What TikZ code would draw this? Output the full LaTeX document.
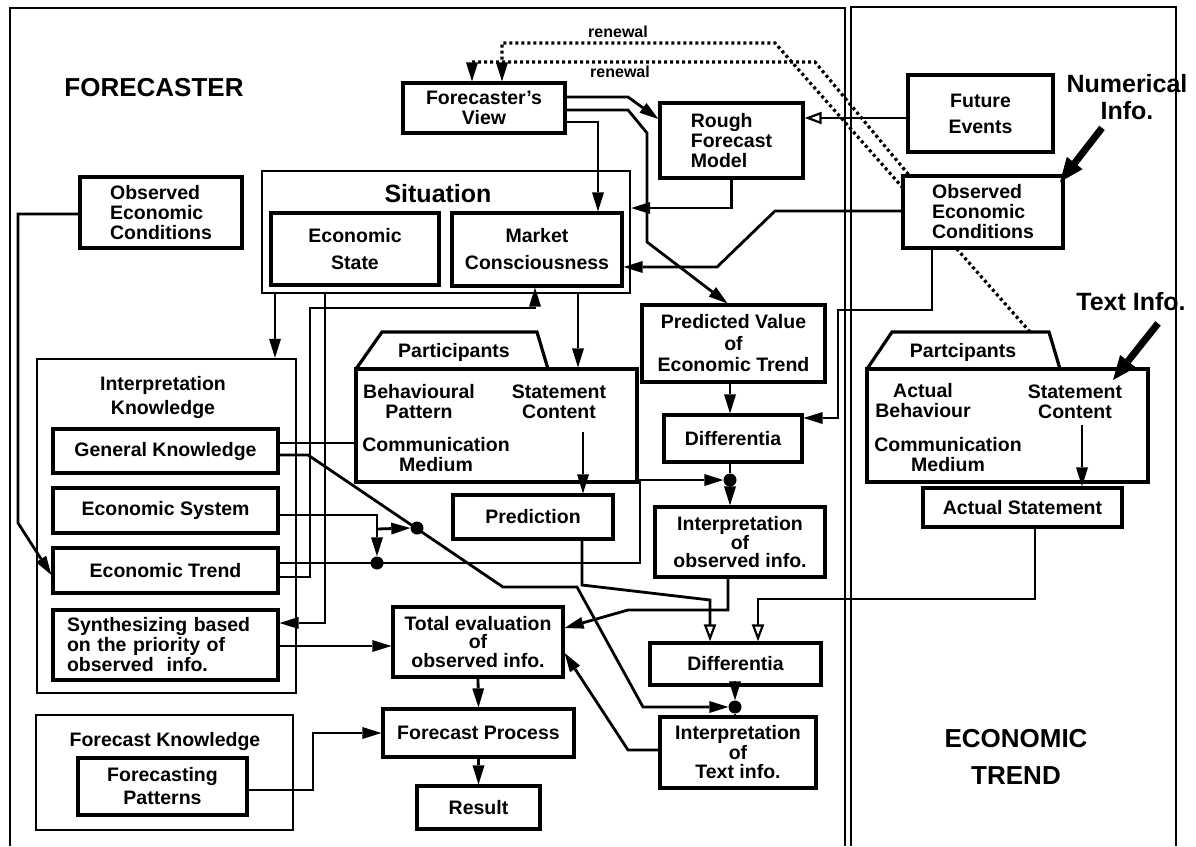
\documentclass[tikz,border=0pt]{standalone}
\usepackage{fontspec}
\setmainfont{Liberation Sans}
\usetikzlibrary{arrows.meta}
\begin{document}
\begin{tikzpicture}[x=1pt,y=-1pt,
  every node/.style={font=\bfseries\fontsize{19.5}{20}\selectfont},
  bx/.style={draw,line width=3.2pt,inner sep=0pt,align=center,fill=white},
  container/.style={draw,line width=2.4pt,inner sep=0pt},
  frameline/.style={line width=2pt},
  link/.style={line width=2.8pt},
  arr/.style={link,-{Triangle[length=19pt,width=12pt,line width=0pt]}},
  oarr/.style={link,-{Triangle[open,length=17pt,width=12pt,line width=2.2pt]}},
  renew/.style={line width=3.2pt,dash pattern=on 3pt off 3pt},
  bigarr/.style={line width=7pt,-{Triangle[length=24pt,width=20pt,line width=0pt]}},
  jdot/.style={circle,fill,inner sep=0pt,minimum size=13pt},
  txt/.style={inner sep=0pt,align=center},
  big/.style={font=\bfseries\fontsize{26}{37}\selectfont},
]
\useasboundingbox (0,0) rectangle (1196,846);

% two outer frames
\draw[frameline] (10,846) -- (10,8) -- (845,8) -- (845,846);
\draw[frameline] (851,846) -- (851,7) -- (1176,7) -- (1176,846);

% region titles
\node[txt,big] (forecaster) at (154,88) {FORECASTER};
\node[txt,big] (ectrend) at (1016,757) {ECONOMIC\\TREND};
\node[txt,font=\bfseries\fontsize{25}{27}\selectfont] (numinfo) at (1127,97) {Numerical\\Info.};
\node[txt,font=\bfseries\fontsize{25}{27}\selectfont] (txtinfo) at (1131,302) {Text Info.};
\node[txt,font=\bfseries\fontsize{16}{17}\selectfont] (rwlab1) at (618,32) {renewal};
\node[txt,font=\bfseries\fontsize{16}{17}\selectfont] (rwlab2) at (620,72) {renewal};

% upper boxes
\node[bx,minimum width=162pt,minimum height=50pt] (fv) at (484,108) {Forecaster’s\\View};
\node[bx,minimum width=143pt,minimum height=75pt,align=left] (rfm) at (731.5,140.5) {Rough\\Forecast\\Model};
\node[bx,minimum width=145pt,minimum height=77pt,font=\bfseries\fontsize{19.5}{26}\selectfont] (fe) at (980.5,113.5) {Future\\Events};
\node[bx,minimum width=160pt,minimum height=72pt,align=left] (oecR) at (983,212) {Observed\\Economic\\Conditions};
\node[bx,minimum width=162pt,minimum height=71pt,align=left] (oecL) at (161,212.5) {Observed\\Economic\\Conditions};

% situation
\node[container,minimum width=368pt,minimum height=122pt] (sit) at (446,232) {};
\node[txt,font=\bfseries\fontsize{25}{27}\selectfont] (sitlabel) at (438,194) {Situation};
\node[bx,minimum width=168pt,minimum height=72pt,font=\bfseries\fontsize{19.5}{27}\selectfont] (es) at (355,249) {Economic\\State};
\node[bx,minimum width=170pt,minimum height=73pt,font=\bfseries\fontsize{19.5}{27}\selectfont] (mc) at (537,249.5) {Market\\Consciousness};

% interpretation knowledge
\node[container,minimum width=259pt,minimum height=334pt] (ik) at (166.5,526) {};
\node[txt,font=\bfseries\fontsize{19.5}{24}\selectfont] (iklabel) at (163,397) {Interpretation\\Knowledge};
\node[bx,minimum width=225pt,minimum height=44pt] (gk) at (165.5,451) {General Knowledge};
\node[bx,minimum width=225pt,minimum height=45pt] (esys) at (165.5,510.5) {Economic System};
\node[bx,minimum width=225pt,minimum height=45pt] (et) at (165.5,570.5) {Economic Trend};
\node[bx,minimum width=225pt,minimum height=70pt,align=left,text width=197pt] (syn) at (165.5,645) {Synthesizing based\\on the priority of\\observed\ \ info.};

% forecast knowledge
\node[container,line width=2.8pt,minimum width=257pt,minimum height=115pt] (fk) at (164.5,772.5) {};
\node[txt] (fklabel) at (165,741) {Forecast Knowledge};
\node[bx,minimum width=169pt,minimum height=57pt,font=\bfseries\fontsize{19.5}{23}\selectfont] (fpat) at (162.5,786.5) {Forecasting\\Patterns};

% participants (forecaster side)
\draw[line width=3.2pt,line join=miter] (356,369) -- (382,332) -- (537,332) -- (548,369);
\node[draw,line width=3.2pt,inner sep=0pt,minimum width=281pt,minimum height=113pt] (partL) at (496.5,425.5) {};
\node[txt] (plabel) at (454,352) {Participants};
\node[txt] (pbeh) at (419,402) {Behavioural\\Pattern};
\node[txt] (pcomm) at (436,455) {Communication\\Medium};
\node[txt] (pstat) at (559,402) {Statement\\Content};

% participants (economic trend side)
\draw[line width=3.2pt,line join=miter] (867,369) -- (892,332) -- (1049,332) -- (1060,369);
\node[draw,line width=3.2pt,inner sep=0pt,minimum width=281pt,minimum height=113pt] (partR) at (1007.5,425.5) {};
\node[txt] (prlabel) at (963,352) {Partcipants};
\node[txt] (prbeh) at (923,401) {Actual\\Behaviour};
\node[txt] (prcomm) at (948,455) {Communication\\Medium};
\node[txt] (prstat) at (1075,402) {Statement\\Content};
\node[bx,minimum width=199pt,minimum height=39pt] (as) at (1022.5,507.5) {Actual Statement};

% middle column
\node[bx,minimum width=160pt,minimum height=44pt] (pred) at (533,517) {Prediction};
\node[bx,minimum width=183pt,minimum height=77pt,font=\bfseries\fontsize{19.5}{21.5}\selectfont] (pv) at (733.5,343.5) {Predicted Value\\of\\Economic Trend};
\node[bx,minimum width=138pt,minimum height=47pt] (dif1) at (733,438.5) {Differentia};
\node[bx,minimum width=170pt,minimum height=70pt,font=\bfseries\fontsize{19.5}{17.5}\selectfont] (ioo) at (740,542) {Interpretation\\of\\observed info.};
\node[bx,minimum width=171pt,minimum height=42pt] (dif2) at (735.5,664) {Differentia};
\node[bx,minimum width=156pt,minimum height=71pt,font=\bfseries\fontsize{19.5}{19.5}\selectfont] (iot) at (738,752.5) {Interpretation\\of\\Text info.};
\node[bx,minimum width=170pt,minimum height=70pt,font=\bfseries\fontsize{19.5}{18.5}\selectfont] (te) at (478,642) {Total evaluation\\of\\observed info.};
\node[bx,minimum width=191pt,minimum height=48pt] (fproc) at (478.5,733) {Forecast Process};
\node[bx,minimum width=123pt,minimum height=43pt] (res) at (478.5,807.5) {Result};

% junction dots
\node[jdot] (jSys) at (417,528) {};
\node[jdot] (jTrend) at (377,563) {};
\node[jdot] (jObs) at (730,480) {};
\node[jdot] (jTxt) at (735,707) {};

% renewal loops (dotted)
\coordinate (rwA) at (1030,332);
\coordinate (rwB) at (956,248);
\coordinate (rwC) at (903,188);
\draw[renew] (rwA) -- (rwB);
\draw[renew,-{Triangle[length=19pt,width=12pt,line width=0pt]}] (rwC) -- (775,43) -- (502,43) -- (fv.north -| 502,0);
\draw[renew,-{Triangle[length=19pt,width=12pt,line width=0pt]}] ([xshift=7pt]oecR.north west) -- (815,62) -- (472,62) -- (fv.north -| 472,0);

% numerical / text info arrows
\draw[bigarr] (numinfo.south) ++(-25,8) coordinate (niStart) (niStart) -- (1060,182);
\draw[bigarr] (txtinfo.south) ++(27,12) coordinate (tiStart) (tiStart) -- (1113,380);

% forecaster's view outputs
\draw[arr] (fv.east |- 0,97) -- (628,97) -- (rfm.west |- 0,119);
\draw[arr] (fv.east |- 0,110) -- (628,110) -- (647,133) -- (647,242) -- ([xshift=-6pt]pv.north);
\draw[arr] (fv.east |- 0,122) -- (598,122) -- (mc.north -| 598,0);

% rough model, future events, observed conditions
\draw[arr] (rfm.south) -- (rfm.south |- 0,208) -- (sit.east |- 0,208);
\draw[oarr] (fe.west |- 0,118) -- (rfm.east |- 0,118);
\draw[arr] (oecR.west |- 0,211) -- (775,211) -- (717,267) -- (mc.east |- 0,267);
\draw[arr] (oecR.south -| 932,0) -- (932,310) -- (838,310) -- (838,418) -- (dif1.east |- 0,418);
\draw[arr] (oecL.west |- 0,214) -- (18,214) -- (18,523) -- (et.west |- 0,575);

% situation outputs
\draw[arr] (sit.south -| 275,0) -- (ik.north -| 275,0);
\draw[arr] (sit.south -| 325,0) -- (325,623) -- (syn.east |- 0,623);
\draw[arr] (sit.south -| 578,0) -- (partL.north -| 578,0);

% interpretation knowledge outputs
\draw[arr] (et.east |- 0,577) -- (310,577) -- (310,308) -- (535,308) -- (mc.south -| 535,0);
\draw[link] (gk.east |- 0,443) -- (partL.west |- 0,443);
\draw[arr] (gk.east |- 0,455) -- (308,455) -- (503,587) -- (577,587) -- (643,707) -- (jTxt.west);
\draw[arr] (esys.east |- 0,515) -- (377,515) -- (jTrend.north);
\coordinate (esysBranch) at (377,529);
\draw[arr] (esysBranch) -- (jSys.west);
\draw[arr] (et.east |- 0,563) -- (640,563) -- (640,480) -- (jObs.west);
\draw[arr] (syn.east |- 0,646) -- (te.west |- 0,646);

% statements and predictions
\coordinate (scL) at (583,432);
\draw[arr] (scL) -- (pred.north -| scL);
\coordinate (scR) at (1082,425);
\draw[arr] (scR) -- (as.north -| scR);
\draw[arr] (pv.south -| 730,0) -- (dif1.north -| 730,0);
\draw[link] (dif1.south -| jObs) -- (jObs);
\draw[arr] (jObs) -- (ioo.north -| jObs);
\draw[oarr] (pred.south -| 582,0) -- (582,585) -- (710,600) -- (dif2.north -| 710,0);
\draw[oarr] (as.south -| 1035,0) -- (1035,599) -- (758,599) -- (dif2.north -| 758,0);
\draw[arr] (dif2.south -| jTxt) -- (jTxt);
\draw[link] (jTxt) -- (iot.north -| jTxt);

% evaluation and forecast
\draw[arr] (ioo.south -| 728,0) -- (728,610) -- (628,610) -- (te.east |- 0,628);
\draw[arr] (iot.west |- 0,750) -- (628,750) -- (te.east |- 0,653);
\draw[arr] (te.south) -- (fproc.north);
\draw[arr] (fproc.south) -- (res.north);
\draw[arr] (fpat.east |- 0,790) -- (313,790) -- (313,733) -- (fproc.west |- 0,733);
\end{tikzpicture}
\end{document}
